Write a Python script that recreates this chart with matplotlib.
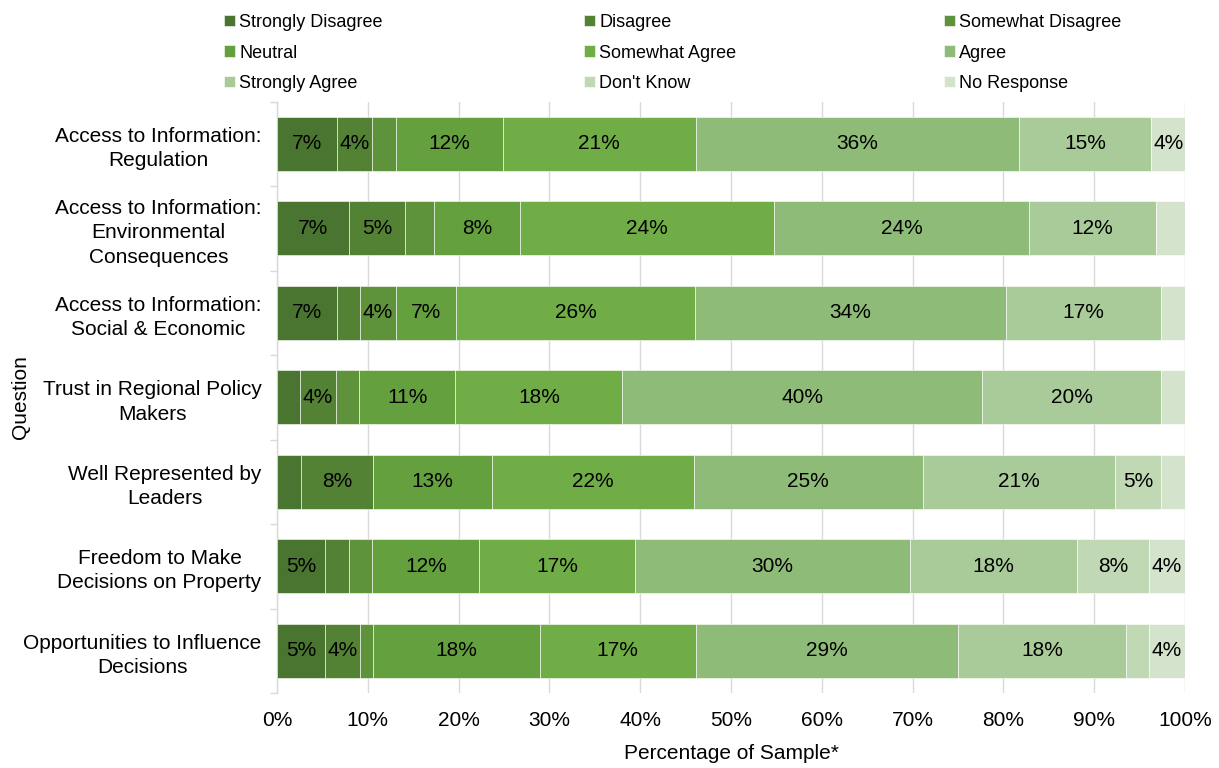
import numpy as np
import matplotlib.pyplot as plt

plt.rcParams['font.family'] = ['Liberation Sans', 'DejaVu Sans']

questions = ['Access to Information:\nRegulation',
             'Access to Information:\nEnvironmental\nConsequences',
             'Access to Information:\nSocial & Economic',
             'Trust in Regional Policy\nMakers',
             'Well Represented by\nLeaders',
             'Freedom to Make\nDecisions on Property',
             'Opportunities to Influence\nDecisions']

responses = ['Strongly Disagree', 'Disagree', 'Somewhat Disagree',
             'Neutral', 'Somewhat Agree', 'Agree',
             'Strongly Agree', "Don't Know", 'No Response']

# percent of sample per question (columns follow `responses`)
strongly_disagree = [6.6, 6.8, 6.6, 2.5, 2.6, 5.3, 5.3]
disagree          = [3.9, 5.3, 2.5, 4.0, 8.0, 2.6, 3.85]
somewhat_disagree = [2.6, 2.7, 4.0, 2.55, 0.0, 2.6, 1.35]
neutral           = [11.8, 8.1, 6.6, 10.6, 13.1, 11.8, 18.4]
somewhat_agree    = [21.2, 24.0, 26.3, 18.4, 22.2, 17.1, 17.1]
agree             = [35.6, 24.0, 34.2, 39.6, 25.2, 30.3, 28.9]
strongly_agree    = [14.6, 12.0, 17.1, 19.8, 21.2, 18.4, 18.4]
dont_know         = [0.0, 0.0, 0.0, 0.0, 5.1, 7.9, 2.5]
no_response       = [3.7, 2.7, 2.6, 2.6, 2.6, 4.0, 4.0]

colors = ['#4a7530', '#548235', '#5e933b', '#65a03f', '#70ad47',
          '#8fbb78', '#a9ca99', '#c0d8b4', '#d4e3cb']

data = np.array([strongly_disagree, disagree, somewhat_disagree, neutral,
                 somewhat_agree, agree, strongly_agree, dont_know,
                 no_response])
# 100% stacked: normalise each question to its total
shares = data / data.sum(axis=0) * 100

fig = plt.figure(figsize=(12.19, 7.68), dpi=100)
ax = fig.add_axes([277/1219, 1 - 693/768, 908/1219, 591.5/768])

y = np.arange(len(questions))
left = np.zeros(len(questions))
handles = []
for i, name in enumerate(responses):
    bars = ax.barh(y, shares[i], left=left, height=0.64, color=colors[i],
                   edgecolor='white', linewidth=0.4, label=name, zorder=3)
    handles.append(bars)
    for j in range(len(questions)):
        if data[i, j] >= 3.5:
            ax.text(left[j] + shares[i, j] / 2, y[j], f'{data[i, j]:.0f}%',
                    ha='center', va='center', fontsize=15, zorder=4)
    left += shares[i]

ax.set_xlim(0, 100)
ax.set_ylim(6.5, -0.5)
ax.set_xticks(np.arange(0, 101, 10))
ax.set_xticklabels([f'{v}%' for v in range(0, 101, 10)], fontsize=15)
ax.set_yticks(y)
ax.set_yticklabels(questions, fontsize=15)
for t in ax.get_yticklabels():
    t.set_multialignment('center')
    t.set_linespacing(1.35)
ax.set_yticks(np.arange(-0.5, 7, 1), minor=True)
ax.tick_params(axis='y', which='major', length=0, pad=11)
ax.tick_params(axis='y', which='minor', length=5, color='#d9d9d9', width=1)
ax.tick_params(axis='x', length=0, pad=13)
ax.grid(axis='x', color='#d9d9d9', linewidth=1, zorder=0)
for s in ['top', 'right', 'bottom']:
    ax.spines[s].set_visible(False)
ax.spines['left'].set_color('#d9d9d9')
ax.spines['left'].set_linewidth(1)

ax.set_xlabel('Percentage of Sample*', fontsize=15, labelpad=10)
ax.set_ylabel('Question', fontsize=15)
ax.yaxis.set_label_coords(-0.272, 0.5)

# legend in three columns, filled row by row
col_x = [224, 584, 944]
for c in range(3):
    hs = [handles[c + 3 * r] for r in range(3)]
    fig.legend(hs, [responses[c + 3 * r] for r in range(3)],
               loc='upper left', bbox_to_anchor=(col_x[c] / 1219, 1 - 14 / 768),
               frameon=False, fontsize=13, handlelength=0.6,
               handleheight=0.6, handletextpad=0.25, labelspacing=0.75,
               borderpad=0, borderaxespad=0)

fig.savefig('out.png', dpi=100)
